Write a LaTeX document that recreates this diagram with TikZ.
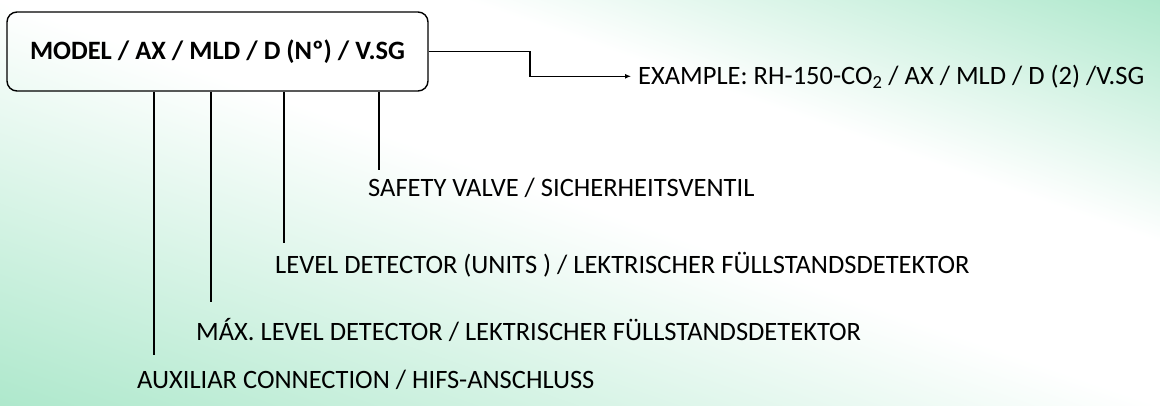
\documentclass[tikz,border=0pt]{standalone}
\usepackage{fontspec}
\setmainfont{Carlito}
\usetikzlibrary{arrows.meta}
\definecolor{bggreen}{RGB}{174,232,204}
\pgfdeclarehorizontalshading{bgdiag}{100bp}{color(0bp)=(bggreen); color(25bp)=(bggreen); color(50bp)=(white); color(60bp)=(white); color(75bp)=(bggreen); color(100bp)=(bggreen)}

\begin{document}
\begin{tikzpicture}[x=1pt,y=1pt,
  lbl/.style={anchor=base west,inner sep=0pt,font=\fontsize{26.5}{31}\selectfont},
  lead/.style={line width=1.1pt}]
  % page frame and diagonal green/white background
  \useasboundingbox (0,0) rectangle (1160,405);
  \clip (0,0) rectangle (1160,405);
  \begin{scope}[transform canvas={shift={(580,202.5)},xscale={1160/405},rotate=45}]
    \shade[shading=bgdiag] (-287,-287) rectangle (287,287);
  \end{scope}

  % code box
  \node[draw,line width=1.4pt,rounded corners=10pt,minimum width=421pt,minimum height=79pt,
    font=\bfseries\fontsize{26.5}{31}\selectfont] (model) at (217.5,353.5) {MODEL / AX / MLD / D (Nº) / V.SG};

  % labels
  \node[lbl] (example) at (638,320.7) {EXAMPLE: RH-150-CO\textsubscript{2} / AX / MLD / D (2) /V.SG};
  \node[lbl] (safety) at (368,208.7) {SAFETY VALVE / SICHERHEITSVENTIL};
  \node[lbl] (level) at (275,131.7) {LEVEL DETECTOR (UNITS ) / LEKTRISCHER FÜLLSTANDSDETEKTOR};
  \node[lbl] (maxlevel) at (196,64.7) {MÁX. LEVEL DETECTOR / LEKTRISCHER FÜLLSTANDSDETEKTOR};
  \node[lbl] (aux) at (137,16.7) {AUXILIAR CONNECTION / HIFS-ANSCHLUSS};

  % example arrow
  \coordinate (kink) at (530,0);
  \draw[lead,-{Latex[length=6pt,width=5pt]}] (model.east) -- (model.east -| kink)
    |- ([xshift=-7pt,yshift=8pt]example.base west);

  % leaders from the code parts
  \coordinate (endax) at (154,50);
  \coordinate (endmld) at (211,103);
  \coordinate (endd) at (284,162);
  \coordinate (endvsg) at (379,235);
  \foreach \e in {endax,endmld,endd,endvsg}
    \draw[lead] (model.south -| \e) -- (\e);
\end{tikzpicture}
\end{document}
